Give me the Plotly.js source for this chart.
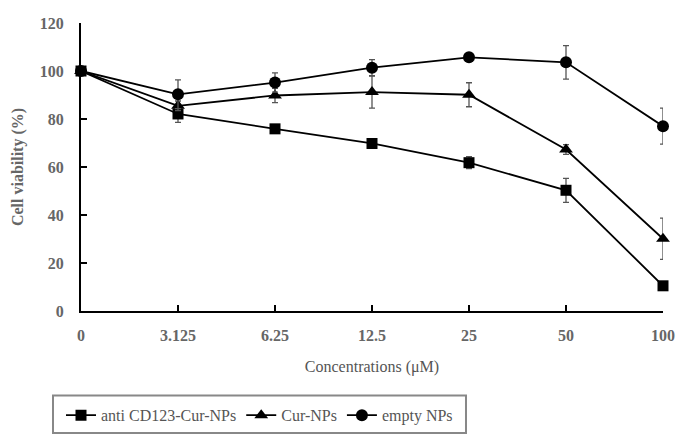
<!DOCTYPE html>
<html>
<head>
<meta charset="utf-8">
<script src="https://cdn.plot.ly/plotly-3.0.1.min.js"></script>
<style>html,body{margin:0;padding:0;background:#fff;}#chart{width:686px;height:444px;}</style>
</head>
<body>
<div id="chart"></div>
<script>
var categories = ["0", "3.125", "6.25", "12.5", "25", "50", "100"];
var seriesNames = ["anti CD123-Cur-NPs", "Cur-NPs", "empty NPs"];
var antiCD123 = [100, 82.1, 75.9, 69.8, 61.8, 50.3, 10.5];
var antiCD123Err = [0, 3.5, 1, 1, 2.5, 5, 1];
var curNPs = [100, 85.5, 89.8, 91.2, 90.1, 67.3, 30.1];
var curNPsErr = [0, 2, 3, 6.7, 5, 2, 8.6];
var emptyNPs = [100, 90.3, 95.2, 101.4, 105.7, 103.6, 77.0];
var emptyNPsErr = [0, 6, 4, 3.3, 1.5, 7, 7.5];

var xIdx = categories.map(function (c, i) { return i; });
var symbols = ["square", "triangle-up", "circle"];
var sizes = [11, 12, 12];
var ys = [antiCD123, curNPs, emptyNPs];
var errs = [antiCD123Err, curNPsErr, emptyNPsErr];

var traces = ys.map(function (y, k) {
  return {
    x: xIdx, y: y, name: seriesNames[k], type: "scatter", mode: "lines+markers",
    line: {color: "#000", width: 1.8},
    marker: {symbol: symbols[k], size: sizes[k], color: "#000"},
    error_y: {type: "data", array: errs[k], visible: true, color: "#555", thickness: 1.3, width: 3},
    cliponaxis: false
  };
});

var fontFam = "Liberation Serif, DejaVu Serif, serif";
var txt = {family: fontFam, size: 16, color: "#666", weight: "bold"};
var layout = {
  width: 686, height: 444,
  margin: {l: 81, r: 23, t: 23, b: 131},
  paper_bgcolor: "#fff", plot_bgcolor: "#fff",
  showlegend: true,
  font: {family: fontFam, size: 16, color: "#555"},
  xaxis: {
    range: [0, 6], tickmode: "array", tickvals: xIdx, ticktext: categories,
    showgrid: false, zeroline: false, showline: true, linecolor: "#000", linewidth: 2,
    ticks: "inside", ticklen: 6, tickwidth: 2, tickcolor: "#000",
    ticklabelstandoff: 9,
    tickfont: txt,
    title: {text: "Concentrations (μM)", font: {family: fontFam, size: 16, color: "#555", weight: "normal"}, standoff: 18}
  },
  yaxis: {
    range: [0, 120], tickvals: [0, 20, 40, 60, 80, 100, 120],
    showgrid: false, zeroline: false, showline: true, linecolor: "#000", linewidth: 2,
    ticks: "inside", ticklen: 6, tickwidth: 2, tickcolor: "#000",
    ticklabelstandoff: 12,
    tickfont: txt,
    title: {text: "Cell viability (%)", font: txt, standoff: 12}
  },
  shapes: [{
    type: "rect", xref: "paper", yref: "paper",
    x0: -0.0481, x1: 0.6615, y0: -0.424, y1: -0.293,
    line: {color: "#888", width: 2}, fillcolor: "rgba(0,0,0,0)", layer: "below"
  }],
  legend: {
    orientation: "h", x: 0.3067, xanchor: "center", y: -0.362, yanchor: "middle",
    borderwidth: 0, bgcolor: "rgba(0,0,0,0)",
    font: {family: fontFam, size: 16, color: "#555", weight: "normal"},
    itemwidth: 30, tracegroupgap: 0
  }
};

Plotly.newPlot("chart", traces, layout, {displayModeBar: false, staticPlot: true});
</script>
</body>
</html>
